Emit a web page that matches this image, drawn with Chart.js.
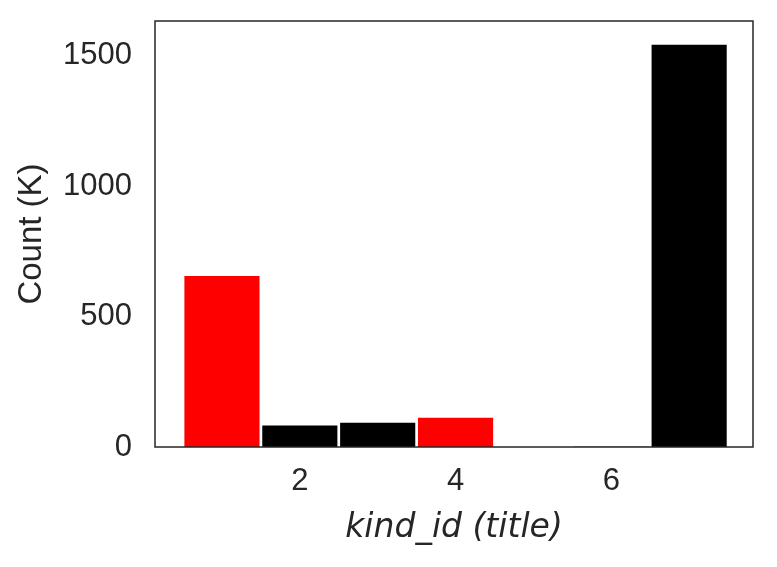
<!DOCTYPE html>
<html>
<head>
<meta charset="utf-8">
<script src="https://cdn.jsdelivr.net/npm/chart.js@4/dist/chart.umd.min.js"></script>
<style>
  html, body { margin: 0; padding: 0; background: #fff; }
  #wrap { width: 777px; height: 567px; }
</style>
</head>
<body>
<div id="wrap"><canvas id="chart" width="777" height="567"></canvas></div>
<script>
// ── Data ──────────────────────────────────────────────────
const kindIds   = [1, 2, 3, 4, 5, 6, 7];
const countsK   = [656, 82, 93, 112, 0, 1, 1543];
const barColors = ["#ff0000", "#000000", "#000000", "#ff0000", "#000000", "#000000", "#000000"];
const xTicks    = [2, 4, 6];
const yTicks    = [0, 500, 1000, 1500];

const tickFont  = { family: "'Liberation Sans', Arial, sans-serif", size: 31 };
const TEXT      = "#262626";

// frame round the plot area
const frame = {
  id: "frame",
  afterDraw(chart) {
    const { ctx, chartArea: a } = chart;
    ctx.save();
    ctx.strokeStyle = TEXT;
    ctx.lineWidth = 1.5;
    ctx.strokeRect(a.left, a.top, a.right - a.left, a.bottom - a.top);
    ctx.restore();
  },
};

new Chart(document.getElementById("chart"), {
  type: "bar",
  data: {
    datasets: [{
      data: kindIds.map((k, i) => ({ x: k, y: countsK[i] })),
      backgroundColor: barColors,
      borderWidth: 0,
      barPercentage: 1,
      categoryPercentage: 0.965,
    }],
  },
  options: {
    responsive: false,
    animation: false,
    layout: { padding: { left: 0, top: 21, right: 24, bottom: 0 } },
    plugins: { legend: { display: false }, tooltip: { enabled: false } },
    scales: {
      x: {
        type: "linear",
        offset: false,
        min: 0.14,
        max: 7.82,
        grid: { display: false },
        border: { display: false },
        afterBuildTicks: s => { s.ticks = xTicks.map(v => ({ value: v })); },
        afterFit: s => { s.height = 120; s.paddingLeft = 0; s.paddingRight = 0; },
        ticks: { color: TEXT, font: tickFont, padding: 8, maxRotation: 0, callback: v => String(v) },
        title: {
          display: true,
          text: "kind_id (title)",
          color: TEXT,
          font: { family: "'DejaVu Sans', sans-serif", size: 33, style: "italic" },
          padding: { top: 0, bottom: 19 },
        },
      },
      y: {
        min: 0,
        max: 1634,
        grid: { display: false },
        border: { display: false },
        afterBuildTicks: s => { s.ticks = yTicks.map(v => ({ value: v })); },
        afterFit: s => { s.width = 155; s.paddingTop = 0; s.paddingBottom = 0; },
        ticks: { color: TEXT, font: tickFont, padding: 15, callback: v => String(v) },
        title: {
          display: true,
          text: "Count (K)",
          color: TEXT,
          font: { family: "'Liberation Sans', Arial, sans-serif", size: 33 },
          padding: { top: 12, bottom: 0 },
        },
      },
    },
  },
  plugins: [frame],
});
</script>
</body>
</html>
